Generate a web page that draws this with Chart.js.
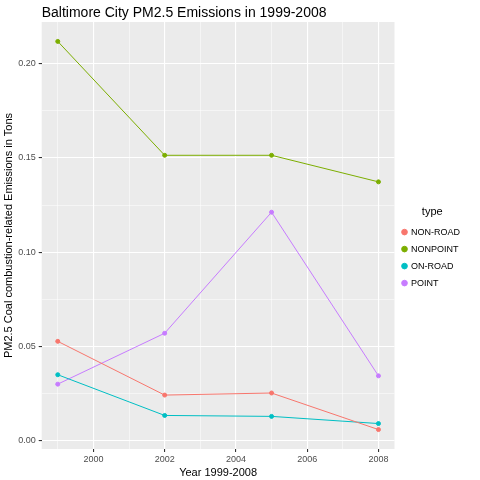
<!DOCTYPE html>
<html>
<head>
<meta charset="utf-8">
<script src="https://cdn.jsdelivr.net/npm/chart.js@4"></script>
<style>
  body { margin: 0; background: #fff; }
  #wrap { width: 480px; height: 480px; }
</style>
</head>
<body>
<div id="wrap"><canvas id="chart"></canvas></div>
<script>
// Dados
const years = [1999, 2002, 2005, 2008];
const nonRoad = [0.0527, 0.0242, 0.0253, 0.0059];
const nonPoint = [0.2118, 0.1514, 0.1514, 0.1373];
const onRoad = [0.0350, 0.0134, 0.0129, 0.0091];
const point = [0.0300, 0.0570, 0.1212, 0.0344];
const typeNames = ["NON-ROAD", "NONPOINT", "ON-ROAD", "POINT"];
const typeColors = ["#F8766D", "#7CAE00", "#00BFC4", "#C77CFF"];
const yTicks = [0, 0.05, 0.10, 0.15, 0.20];
const xTicks = [2000, 2002, 2004, 2006, 2008];
const chartTitle = "Baltimore City PM2.5 Emissions in 1999-2008";

function serie(values, i) {
  return {
    label: typeNames[i],
    data: years.map((y, k) => ({ x: y, y: values[k] })),
    borderColor: typeColors[i],
    backgroundColor: typeColors[i],
    borderWidth: 1,
    pointRadius: 2,
    pointHoverRadius: 2,
    tension: 0
  };
}

// Fundo cinza estilo ggplot + título alinhado ao painel
const panelBg = {
  id: "panelBg",
  beforeDraw(chart) {
    const { ctx, chartArea: a } = chart;
    ctx.save();
    ctx.fillStyle = "#EBEBEB";
    ctx.fillRect(a.left, a.top, a.right - a.left, a.bottom - a.top);
    ctx.restore();
  },
  afterDraw(chart) {
    const { ctx, chartArea: a } = chart;
    ctx.save();
    ctx.fillStyle = "#000";
    ctx.font = "14px 'Liberation Sans'";
    ctx.textBaseline = "alphabetic";
    ctx.fillText(chartTitle, a.left, 17);
    ctx.restore();
  }
};

const isMajorY = v => yTicks.some(t => Math.abs(t - v) < 1e-9);

new Chart(document.getElementById("chart"), {
  type: "line",
  data: {
    datasets: [serie(nonRoad, 0), serie(nonPoint, 1), serie(onRoad, 2), serie(point, 3)]
  },
  options: {
    responsive: true,
    maintainAspectRatio: false,
    animation: false,
    layout: { padding: { left: 2, right: 10, top: 22, bottom: 0 } },
    plugins: {
      title: { display: false },
      legend: {
        position: "right",
        align: "center",
        title: { display: true, text: "type", color: "#000", font: { family: "Liberation Sans", size: 11 }, padding: { left: 0 } },
        labels: {
          usePointStyle: true,
          pointStyle: "circle",
          boxWidth: 4,
          boxHeight: 4,
          color: "#000",
          padding: 8,
          font: { family: "Liberation Sans", size: 9 }
        }
      },
      tooltip: { enabled: false }
    },
    scales: {
      x: {
        type: "linear",
        min: 1998.55,
        max: 2008.45,
        border: { display: false },
        title: { display: true, text: "Year 1999-2008", color: "#000", font: { family: "Liberation Sans", size: 11 }, padding: 0 },
        afterBuildTicks(axis) {
          const t = [];
          for (let v = 1999; v <= 2008; v++) t.push({ value: v });
          axis.ticks = t;
        },
        ticks: {
          autoSkip: false,
          maxRotation: 0,
          color: "#4D4D4D",
          padding: 2,
          font: { family: "Liberation Sans", size: 9 },
          callback: v => (xTicks.includes(v) ? String(v) : "")
        },
        grid: {
          color: "#fff",
          lineWidth: c => (xTicks.includes(c.tick.value) ? 1.1 : 0.5),
          tickColor: c => (xTicks.includes(c.tick.value) ? "#333" : "rgba(0,0,0,0)"),
          tickLength: 3
        }
      },
      y: {
        min: -0.0044,
        max: 0.2221,
        border: { display: false },
        title: { display: true, text: "PM2.5 Coal combustion-related Emissions in Tons", color: "#000", font: { family: "Liberation Sans", size: 11 }, padding: 0 },
        afterBuildTicks(axis) {
          const t = [];
          for (let i = 0; i <= 8; i++) t.push({ value: i * 0.025 });
          axis.ticks = t;
        },
        ticks: {
          autoSkip: false,
          color: "#4D4D4D",
          font: { family: "Liberation Sans", size: 9 },
          callback: v => (isMajorY(v) ? v.toFixed(2) : "")
        },
        grid: {
          color: "#fff",
          lineWidth: c => (isMajorY(c.tick.value) ? 1.1 : 0.5),
          tickColor: c => (isMajorY(c.tick.value) ? "#333" : "rgba(0,0,0,0)"),
          tickLength: 3
        }
      }
    }
  },
  plugins: [panelBg]
});
</script>
</body>
</html>
